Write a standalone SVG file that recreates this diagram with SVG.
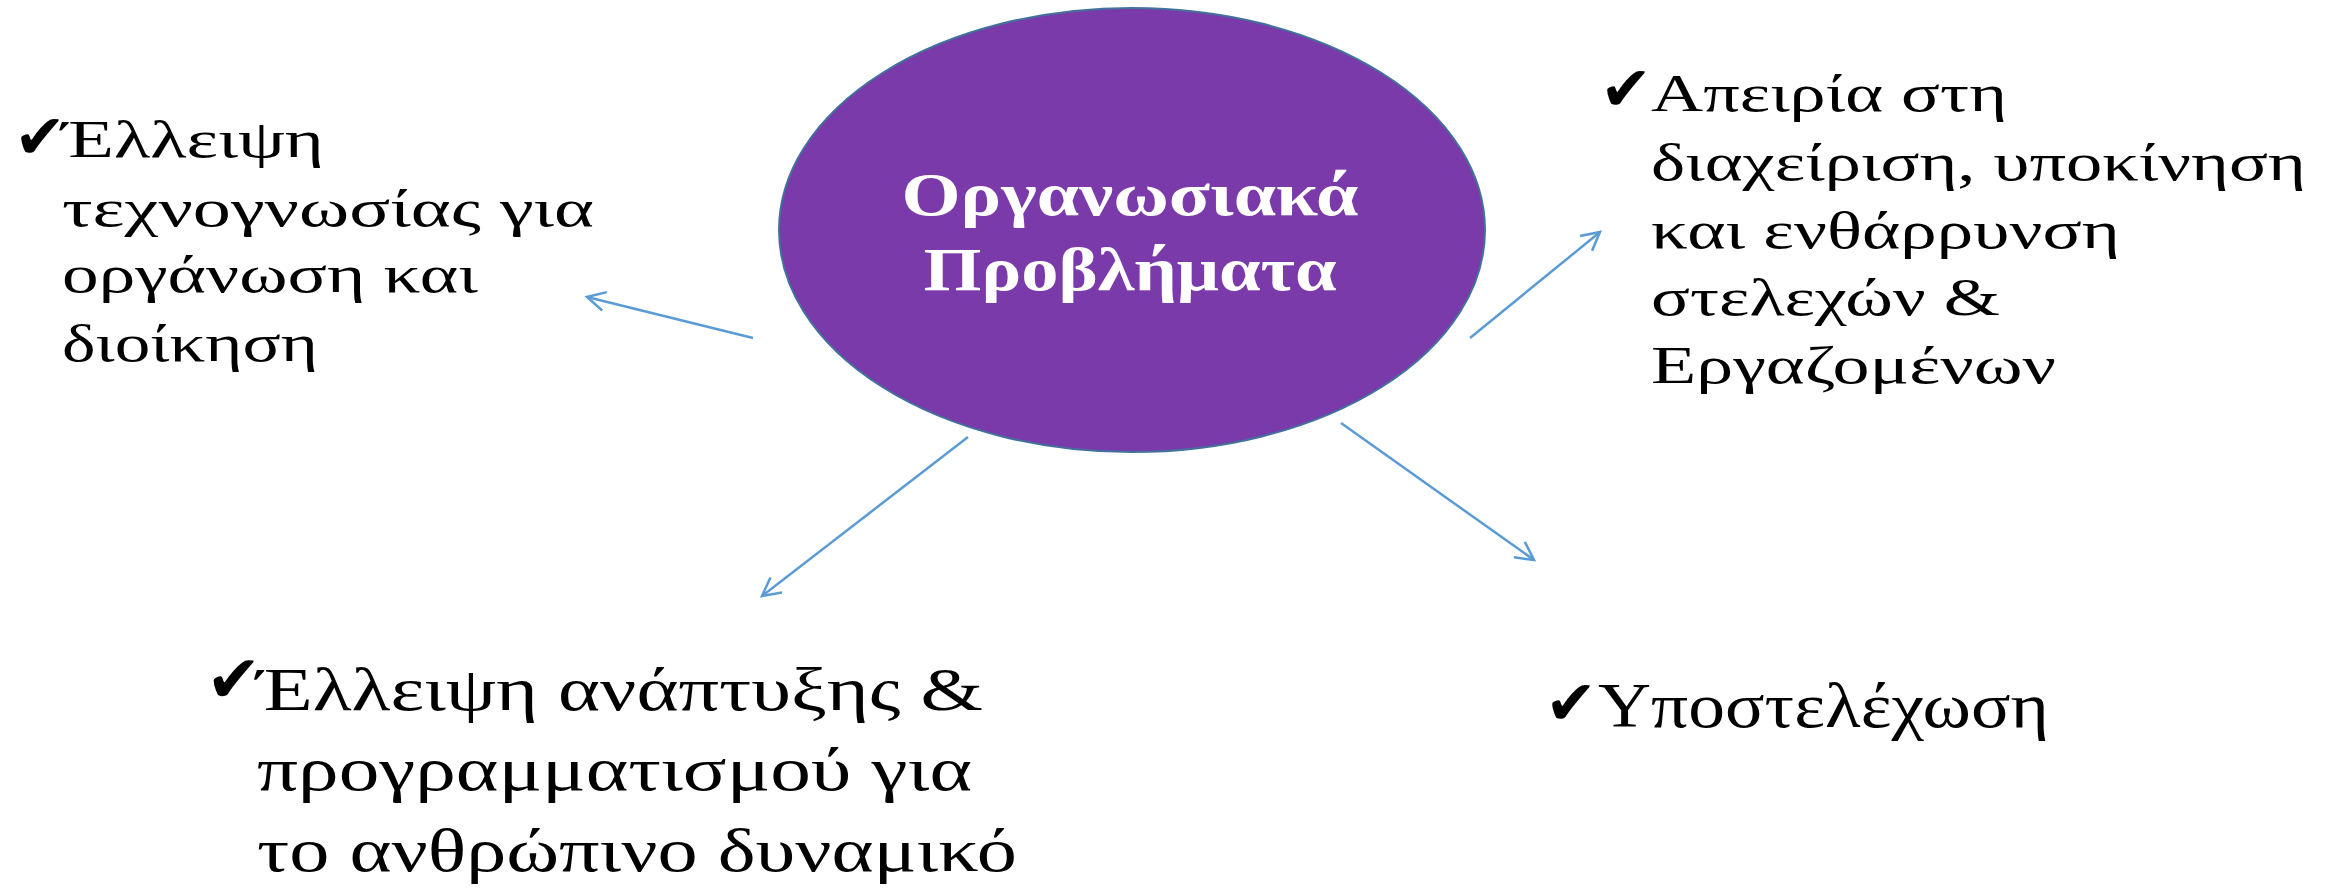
<svg xmlns="http://www.w3.org/2000/svg" width="2328" height="889" viewBox="0 0 2328 889">
  <style>
    .t { font-family: "Liberation Serif", "DejaVu Serif", serif; fill: #000; }
    .s { font-size: 52px; }
    .b { font-size: 62px; }
    .u { font-size: 64px; }
    .c { font-family: "Liberation Serif", "DejaVu Serif", serif; font-size: 62px; font-weight: bold; fill: #fff; text-anchor: middle; }
    .chk { font-family: "DejaVu Sans", sans-serif; fill: #000; }
    .conn { stroke: #5B9BD5; stroke-width: 2.5; fill: none; marker-end: url(#arr); }
  </style>
  <defs>
    <marker id="arr" markerUnits="userSpaceOnUse" markerWidth="40" markerHeight="40" refX="0" refY="0" orient="auto" overflow="visible">
      <path d="M-18,-9.5 L0,0 L-18,9.5" fill="none" stroke="#5B9BD5" stroke-width="2.5"/>
    </marker>
  </defs>
  <rect width="2328" height="889" fill="#fff"/>

  <g id="connectors">
    <line class="conn" x1="753" y1="338" x2="587" y2="297"/>
    <line class="conn" x1="1470" y1="338" x2="1600" y2="232"/>
    <line class="conn" x1="968" y1="437" x2="762" y2="596"/>
    <line class="conn" x1="1341" y1="423" x2="1534" y2="560"/>
  </g>

  <g id="center">
    <ellipse cx="1132" cy="230" rx="353" ry="222" fill="#7B3AAA" stroke="#41719C" stroke-width="2"/>
    <text class="c" x="1130" y="215" textLength="457" lengthAdjust="spacingAndGlyphs">Οργανωσιακά</text>
    <text class="c" x="1130" y="290" textLength="413" lengthAdjust="spacingAndGlyphs">Προβλήματα</text>
  </g>

  <g id="node-left">
    <text class="chk" x="14" y="158" font-size="62">✔</text>
    <text class="t s" x="62" y="157" textLength="262" lengthAdjust="spacingAndGlyphs">Έλλειψη</text>
    <text class="t s" x="62" y="226" textLength="532" lengthAdjust="spacingAndGlyphs">τεχνογνωσίας για</text>
    <text class="t s" x="62" y="292" textLength="416" lengthAdjust="spacingAndGlyphs">οργάνωση και</text>
    <text class="t s" x="62" y="361" textLength="256" lengthAdjust="spacingAndGlyphs">διοίκηση</text>
  </g>

  <g id="node-right">
    <text class="chk" x="1600" y="110" font-size="62">✔</text>
    <text class="t s" x="1651" y="111" textLength="356" lengthAdjust="spacingAndGlyphs">Απειρία στη</text>
    <text class="t s" x="1651" y="180" textLength="655" lengthAdjust="spacingAndGlyphs">διαχείριση, υποκίνηση</text>
    <text class="t s" x="1651" y="248" textLength="469" lengthAdjust="spacingAndGlyphs">και ενθάρρυνση</text>
    <text class="t s" x="1651" y="315" textLength="349" lengthAdjust="spacingAndGlyphs">στελεχών &amp;</text>
    <text class="t s" x="1651" y="383" textLength="405" lengthAdjust="spacingAndGlyphs">Εργαζομένων</text>
  </g>

  <g id="node-bottom-left">
    <text class="chk" x="206" y="702" font-size="66">✔</text>
    <text class="t b" x="257" y="710" textLength="726" lengthAdjust="spacingAndGlyphs">Έλλειψη ανάπτυξης &amp;</text>
    <text class="t b" x="257" y="790" textLength="715" lengthAdjust="spacingAndGlyphs">προγραμματισμού για</text>
    <text class="t b" x="257" y="871" textLength="760" lengthAdjust="spacingAndGlyphs">το ανθρώπινο δυναμικό</text>
  </g>

  <g id="node-bottom-right">
    <text class="chk" x="1545" y="724" font-size="62">✔</text>
    <text class="t u" x="1598" y="727" textLength="451" lengthAdjust="spacingAndGlyphs">Υποστελέχωση</text>
  </g>
</svg>
